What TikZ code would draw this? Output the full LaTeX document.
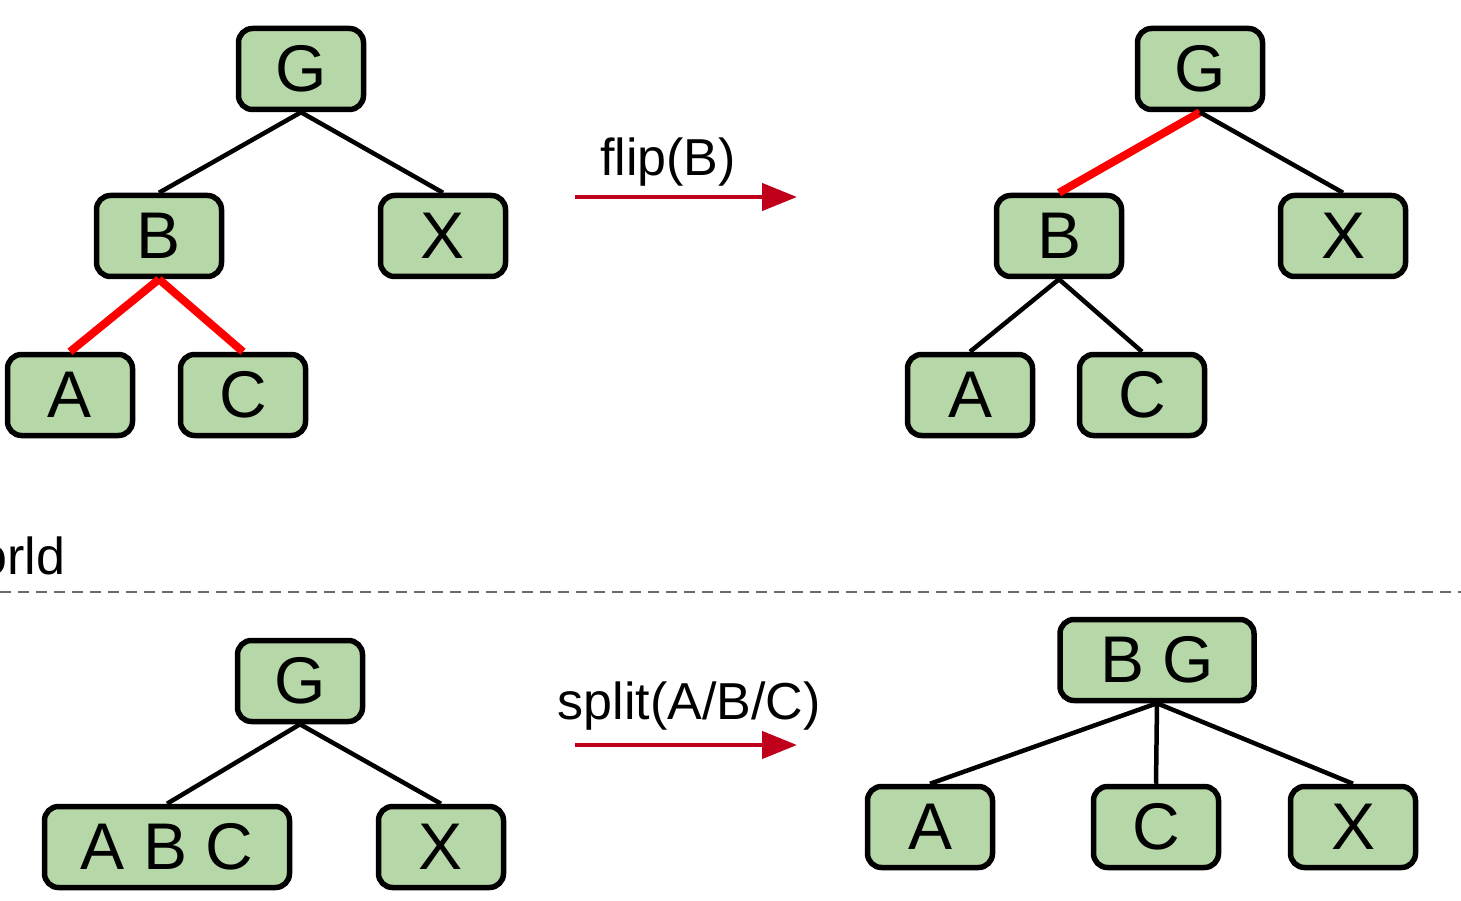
\documentclass[tikz,border=0pt]{standalone}
\usepackage{fontspec}
\setmainfont{Liberation Sans}
\usetikzlibrary{arrows.meta}
\definecolor{boxfill}{HTML}{B6D7A8}
\definecolor{opred}{HTML}{C0001A}
\definecolor{hotred}{HTML}{FF0000}
\definecolor{divider}{HTML}{6A6A6A}
\begin{document}
\begin{tikzpicture}[x=1pt,y=-1pt,
  tnode/.style={draw=black, line width=5.5pt, fill=boxfill, rounded corners=14pt,
    minimum width=125pt, minimum height=81pt, inner sep=0pt,
    font=\fontsize{66}{66}\selectfont},
  wide/.style={tnode, minimum width=#1},
  edge/.style={draw=black, line width=4.5pt},
  hot/.style={draw=hotred, line width=8pt},
  oparrow/.style={draw=opred, line width=4.5pt, -{Triangle[length=35pt,width=27pt]}},
  oplabel/.style={anchor=base, font=\fontsize{52}{52}\selectfont},
]
\useasboundingbox (0,0) rectangle (1461,901);
\clip (0,0) rectangle (1461,901);

% flip(B): before
\node[tnode] (g1) at (301,69) {G};
\node[tnode] (b1) at (159,236) {B};
\node[tnode] (x1) at (443,236) {X};
\node[tnode] (a1) at (70,395) {A};
\node[tnode] (c1) at (243,395) {C};
\draw[edge] (g1.south) -- (b1.north);
\draw[edge] (g1.south) -- (x1.north);
\draw[hot] (b1.south) -- (a1.north);
\draw[hot] (b1.south) -- (c1.north);

% flip(B): after
\node[tnode] (g2) at (1200,69) {G};
\node[tnode] (b2) at (1059,236) {B};
\node[tnode] (x2) at (1343,236) {X};
\node[tnode] (a2) at (970,395) {A};
\node[tnode] (c2) at (1142,395) {C};
\draw[hot] (g2.south) -- (b2.north);
\draw[edge] (g2.south) -- (x2.north);
\draw[edge] (b2.south) -- (a2.north);
\draw[edge] (b2.south) -- (c2.north);

% flip operation
\coordinate (f0) at (575,197);
\coordinate (f1) at (797,197);
\draw[oparrow] (f0) -- (f1);
\node[oplabel] (flbl) at (668,176) {flip(B)};

% divider between the two scenarios
\node[anchor=base west, font=\fontsize{52}{52}\selectfont, inner sep=0pt] (wlbl) at (-59,574) {world};
\coordinate (d0) at (0,592);
\coordinate (d1) at (1461,592);
\draw[divider, line width=2.5pt, dash pattern=on 11pt off 7pt] (d0) -- (d1);

% split(A/B/C): before
\node[tnode] (g3) at (300,681) {G};
\node[wide=245pt] (abc) at (167,847) {A B C};
\node[tnode] (x3) at (441,847) {X};
\draw[edge] (g3.south) -- (abc.north);
\draw[edge] (g3.south) -- (x3.north);

% split operation
\coordinate (s0) at (575,745);
\coordinate (s1) at (797,745);
\draw[oparrow] (s0) -- (s1);
\node[oplabel] (slbl) at (689,719) {split(A/B/C)};

% split(A/B/C): after
\node[wide=194pt] (bg) at (1157,660) {B G};
\node[tnode] (a4) at (930,827) {A};
\node[tnode] (c4) at (1156,827) {C};
\node[tnode] (x4) at (1353,827) {X};
\draw[edge] (bg.south) -- (a4.north);
\draw[edge] (bg.south) -- (c4.north);
\draw[edge] (bg.south) -- (x4.north);
\end{tikzpicture}
\end{document}
